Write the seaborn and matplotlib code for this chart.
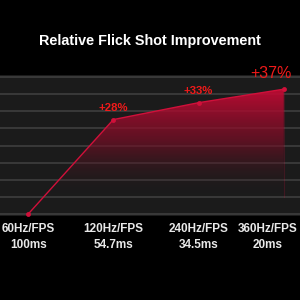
import matplotlib.pyplot as plt
import matplotlib.transforms as mtransforms
from matplotlib.colors import LinearSegmentedColormap
import seaborn as sns
import numpy as np
import pandas as pd

refresh = ["60Hz/FPS", "120Hz/FPS", "240Hz/FPS", "360Hz/FPS"]
latency = ["100ms", "54.7ms", "34.5ms", "20ms"]
improvement = [0, 28, 33, 37]
improvement_labels = ["", "+28%", "+33%", "+37%"]

df = pd.DataFrame({"pos": np.arange(len(refresh)), "improvement": improvement})

red = "#d0103a"

fig = plt.figure(figsize=(3, 3), dpi=100, facecolor="black")
ax = fig.add_axes([0, 84 / 300, 1, 141 / 300])
ax.set_facecolor("#1b1b1b")

ax.set_xlim(-0.33, 3.19)
ax.set_ylim(-0.55, 41.2)

# horizontal bands
for y in np.linspace(0, 40.6, 9):
    ax.axhline(y, color="#3c3c3c", lw=1.3, zorder=1)

# gradient fill under the line
poly = ax.fill_between(df["pos"], df["improvement"], -0.55, color="none", zorder=2)
cmap = LinearSegmentedColormap.from_list(
    "fade", [(0.11, 0.11, 0.11, 0.0), (0.50, 0.05, 0.15, 0.65), (0.80, 0.04, 0.21, 0.95)]
)
grad = np.linspace(0, 1, 256).reshape(-1, 1)
im = ax.imshow(grad, cmap=cmap, aspect="auto", origin="lower",
               extent=[0, 3, 5, 38], zorder=2)
im.set_clip_path(poly.get_paths()[0], transform=ax.transData)
ax.plot([3, 3], [5, improvement[-1]], color=red, lw=0.8, alpha=0.2, zorder=2)

sns.lineplot(data=df, x="pos", y="improvement", ax=ax, color=red, lw=1.0,
             marker="o", markersize=3.5, markeredgewidth=0, zorder=3)

for i, lab in enumerate(improvement_labels):
    if not lab:
        continue
    big = i == len(improvement_labels) - 1
    ax.text(i - (0.15 if big else 0), improvement[i] + (2.4 if big else 1.9), lab,
            color="#f01a1a", ha="center", va="bottom",
            fontsize=11.5 if big else 8.2, fontweight="normal" if big else "bold",
            family="Liberation Sans", clip_on=False, zorder=4)

ax.set_xticks(df["pos"])
ax.set_xticklabels([f"{r}\n{l}" for r, l in zip(refresh, latency)],
                   color="#e8e8e8", fontsize=8.5, fontweight="bold",
                   family="Liberation Sans", linespacing=1.45)
ax.tick_params(axis="x", length=0, pad=5)
ax.set_yticks([])
ax.set_xlabel("")
ax.set_ylabel("")
for s in ax.spines.values():
    s.set_visible(False)

# last label is nudged left so it stays inside the image
lbl = ax.get_xticklabels()[-1]
lbl.set_transform(lbl.get_transform() + mtransforms.ScaledTranslation(-16 / 100, 0, fig.dpi_scale_trans))

fig.text(0.5, 1 - 41 / 300, "Relative Flick Shot Improvement", color="white",
         ha="center", va="center", fontsize=10.4, fontweight="bold",
         family="Liberation Sans")

fig.savefig("out.png", dpi=100, facecolor="black")
